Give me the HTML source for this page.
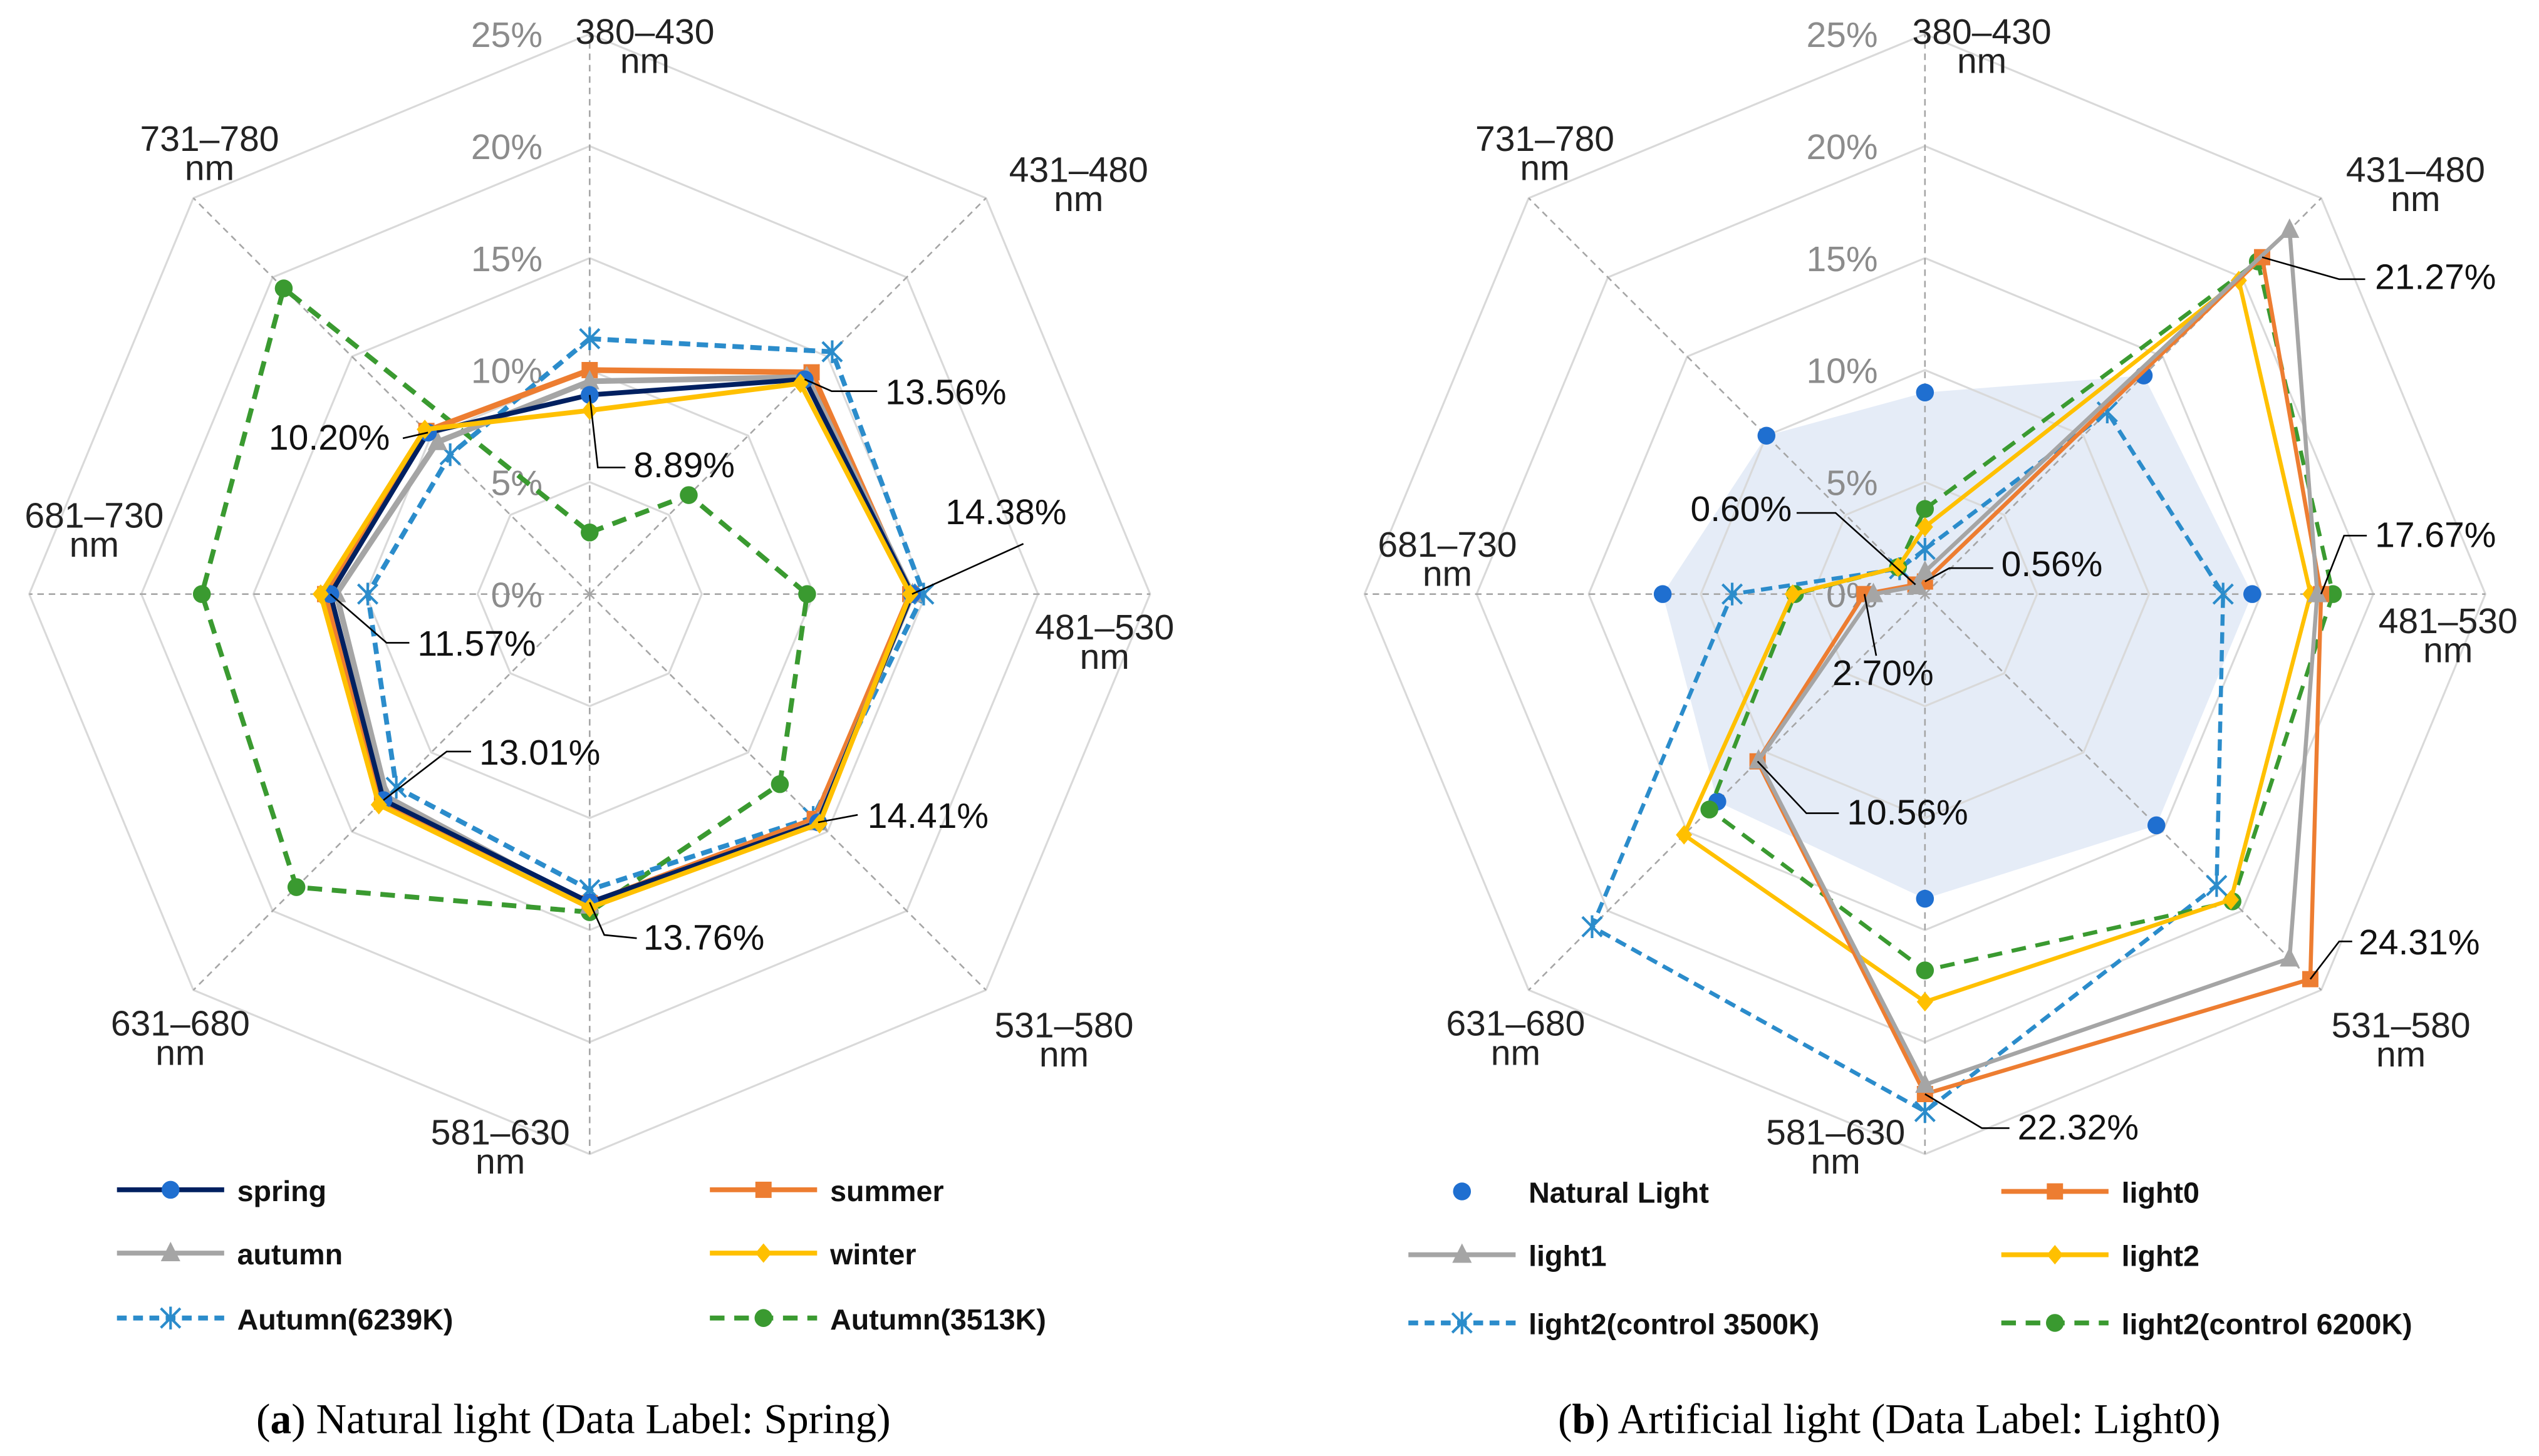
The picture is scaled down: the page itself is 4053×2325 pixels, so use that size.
<!DOCTYPE html>
<html><head><meta charset="utf-8">
<style>
html,body{margin:0;padding:0;background:#fff;}
svg{display:block;}
text{font-family:"Liberation Sans","DejaVu Sans",sans-serif;}
</style></head>
<body>
<svg id="chart" xmlns="http://www.w3.org/2000/svg" width="4053" height="2325" viewBox="0 0 1563 897" preserveAspectRatio="none">
<g id="panelA"></g>
<g id="panelB"></g>
<text x="353" y="883" text-anchor="middle" font-size="26" style="font-family:'Liberation Serif',serif">(<tspan font-weight="bold">a</tspan>) Natural light (Data Label: Spring)</text>
<text x="1163" y="883" text-anchor="middle" font-size="26" style="font-family:'Liberation Serif',serif">(<tspan font-weight="bold">b</tspan>) Artificial light (Data Label: Light0)</text>
</svg>
<script>
const categories = ["380–430","431–480","481–530","531–580","581–630","631–680","681–730","731–780"];
const ticks = [0,5,10,15,20,25];
const tickLabels = ["0%","5%","10%","15%","20%","25%"];
// Panel A series
const spring = [8.89,13.56,14.38,14.41,13.76,13.01,11.57,10.20];
const summer = [10.0,14.0,14.3,14.2,13.8,13.1,11.8,10.3];
const autumn = [9.5,13.7,14.4,14.4,13.9,12.8,11.3,9.6];
const winter = [8.2,13.3,14.3,14.5,14.0,13.3,12.0,10.4];
const autumn6239 = [11.4,15.3,14.9,14.1,13.2,12.2,9.9,8.8];
const autumn3513 = [2.75,6.25,9.7,12.0,14.2,18.5,17.3,19.3];
// Panel B series
const naturalLight = [9.0,13.8,14.6,14.6,13.6,13.1,11.7,10.0];
const light0 = [0.56,21.27,17.67,24.31,22.32,10.56,2.70,0.60];
const light1 = [1.0,23.0,17.5,23.0,21.9,10.5,2.3,0.5];
const light2 = [3.0,19.8,17.2,19.3,18.2,15.2,5.9,1.7];
const control3500 = [2.0,11.5,13.3,18.4,23.1,21.0,8.6,1.6];
const control6200 = [3.8,21.0,18.2,19.4,16.8,13.6,5.8,1.7];

const NS="http://www.w3.org/2000/svg";
const PX=13.8;
function mk(tag,attrs,parent){const e=document.createElementNS(NS,tag);for(const k in attrs)e.setAttribute(k,attrs[k]);parent.appendChild(e);return e;}
function pt(cx,cy,i,v){const a=-Math.PI/2+i*Math.PI/4;return [cx+Math.cos(a)*v*PX, cy+Math.sin(a)*v*PX];}

function marker(g,type,x,y,color,name){
  let e;
  if(type==="circle"){e=mk("circle",{cx:x,cy:y,r:5.5,fill:color},g);}
  else if(type==="square"){e=mk("rect",{x:x-5,y:y-5,width:10,height:10,fill:color},g);}
  else if(type==="triangle"){e=mk("polygon",{points:`${x},${y-7} ${x+6},${y+5} ${x-6},${y+5}`,fill:color},g);}
  else if(type==="diamond"){e=mk("polygon",{points:`${x},${y-6} ${x+5},${y} ${x},${y+6} ${x-5},${y}`,fill:color},g);}
  else if(type==="star"){e=mk("path",{d:`M${x-6} ${y-6}L${x+6} ${y+6}M${x+6} ${y-6}L${x-6} ${y+6}M${x} ${y-7}L${x} ${y+7}`,stroke:color,"stroke-width":1.6,fill:"none"},g);}
  else return;
  
  
}

function grid(g,cx,cy,labelPos){
  for(let t=1;t<ticks.length;t++){
    const pts=categories.map((c,i)=>pt(cx,cy,i,ticks[t]).join(",")).join(" ");
    const r=mk("polygon",{points:pts,fill:"none",stroke:"#d9d9d9","stroke-width":1.2},g);
    
    
  }
  categories.forEach((c,i)=>{
    const [x,y]=pt(cx,cy,i,25);
    const s=mk("line",{x1:cx,y1:cy,x2:x,y2:y,stroke:"#a6a6a6","stroke-width":1,"stroke-dasharray":"4,3"},g);
    
    
    const [lx,ly]=labelPos[i];
    const t1=mk("text",{x:lx,y:ly,"text-anchor":"middle","font-size":22,fill:"#222"},g);
    t1.textContent=c;
    
    
    const t2=mk("text",{x:lx,y:ly+18,"text-anchor":"middle","font-size":22,fill:"#222"},g);
    t2.textContent="nm";
    
    
  });
  ticks.forEach((t,i)=>{
    const tl=mk("text",{x:cx-29,y:cy-t*PX+8,"text-anchor":"end","font-size":22,fill:"#8c8c8c"},g);
    tl.textContent=tickLabels[i];
    
    
  });
}

function series(g,cx,cy,vals,color,type,dash,width,name,line=true,mcolor){
  const sg=mk("g",{},g);
  
  
  if(line){
    const pts=vals.map((v,i)=>pt(cx,cy,i,v).join(",")).join(" ");
    const attrs={points:pts,fill:"none",stroke:color,"stroke-width":width,"stroke-linejoin":"miter"};
    if(dash)attrs["stroke-dasharray"]=dash;
    const p=mk("polygon",attrs,sg);
    
    
  }
  vals.forEach((v,i)=>{const [x,y]=pt(cx,cy,i,v);marker(sg,type,x,y,mcolor||color,name+'-point');});
}

function dataLabel(g,cx,cy,vals,i,text,tx,ty,path,anchor){
  const [x,y]=pt(cx,cy,i,vals[i]);
  const l=mk("polyline",{points:`${x},${y} ${path}`,fill:"none",stroke:"#000","stroke-width":1},g);
  
  
  const t=mk("text",{x:tx,y:ty,"font-size":22,fill:"#111","text-anchor":anchor||"start"},g);
  t.textContent=text;
  
  
}

function legendEntry(g,x,y,color,type,dash,label,name,line=true,mcolor){
  const lg=mk("g",{},g);
  
  
  if(line){
    const a={x1:x,y1:y,x2:x+66,y2:y,stroke:color,"stroke-width":3};
    if(dash)a["stroke-dasharray"]=dash;
    mk("line",a,lg);
  }
  marker(lg,type,x+33,y,mcolor||color,name+'-marker');
  const t=mk("text",{x:x+74,y:y+7,"font-size":18,"font-weight":"bold",fill:"#111"},lg);
  t.textContent=label;
}

const C={navy:"#002060",orange:"#ed7d31",grey:"#a5a5a5",yellow:"#ffc000",blue:"#2b8ccb",green:"#3a9a30",dot:"#1f6fd0"};

// Panel A
(function(){
  const g=document.getElementById("panelA");const cx=363,cy=366;
  grid(g,cx,cy,[[397,27],[664,112],[680,394],[655,639],[308,705],[111,638],[58,325],[129,93]]);
  series(g,cx,cy,autumn3513,C.green,"circle","9,6",3,"series-autumn-3513k");
  series(g,cx,cy,autumn6239,C.blue,"star","7,4",3,"series-autumn-6239k");
  series(g,cx,cy,summer,C.orange,"square",null,3.5,"series-summer");
  series(g,cx,cy,autumn,C.grey,"triangle",null,3.5,"series-autumn");
  series(g,cx,cy,spring,C.navy,"circle",null,3,"series-spring",true,C.dot);
  series(g,cx,cy,winter,C.yellow,"diamond",null,3,"series-winter");
  dataLabel(g,cx,cy,spring,0,"8.89%",390,294,"368,288 385,288");
  dataLabel(g,cx,cy,spring,1,"13.56%",545,249,"512,241 540,241");
  dataLabel(g,cx,cy,spring,2,"14.38%",582,323,"630,335");
  dataLabel(g,cx,cy,spring,3,"14.41%",534,510,"528,502");
  dataLabel(g,cx,cy,spring,4,"13.76%",396,585,"372,576 392,578");
  dataLabel(g,cx,cy,spring,5,"13.01%",295,471,"275,463 290,463");
  dataLabel(g,cx,cy,spring,6,"11.57%",257,404,"238,396 252,396");
  dataLabel(g,cx,cy,spring,7,"10.20%",240,277,"248,270","end");
  legendEntry(g,72,733,C.navy,"circle",null,"spring","legend-spring",true,C.dot);
  legendEntry(g,437,733,C.orange,"square",null,"summer","legend-summer");
  legendEntry(g,72,772,C.grey,"triangle",null,"autumn","legend-autumn");
  legendEntry(g,437,772,C.yellow,"diamond",null,"winter","legend-winter");
  legendEntry(g,72,812,C.blue,"star","6,4","Autumn(6239K)","legend-autumn-6239k");
  legendEntry(g,437,812,C.green,"circle","9,6","Autumn(3513K)","legend-autumn-3513k");
})();

// Panel B
(function(){
  const g=document.getElementById("panelB");const cx=1185,cy=366;
  const area=mk("polygon",{points:naturalLight.map((v,i)=>pt(cx,cy,i,v).join(",")).join(" "),fill:"#dce5f4","fill-opacity":0.75,stroke:"none"},g);
  
  
  grid(g,cx,cy,[[1220,27],[1487,112],[1507,390],[1478,639],[1130,705],[933,638],[891,343],[951,93]]);
  series(g,cx,cy,naturalLight,C.dot,"circle",null,0,"series-natural-light",false);
  series(g,cx,cy,control3500,C.blue,"star","7,4",2.5,"series-light2-control-3500k");
  series(g,cx,cy,control6200,C.green,"circle","9,6",2.5,"series-light2-control-6200k");
  series(g,cx,cy,light2,C.yellow,"diamond",null,2.5,"series-light2");
  series(g,cx,cy,light0,C.orange,"square",null,2.5,"series-light0");
  series(g,cx,cy,light1,C.grey,"triangle",null,2.5,"series-light1");
  dataLabel(g,cx,cy,light0,0,"0.56%",1232,355,"1200,350 1227,350");
  dataLabel(g,cx,cy,light0,1,"21.27%",1462,178,"1440,172 1456,172");
  dataLabel(g,cx,cy,light0,2,"17.67%",1462,337,"1443,330 1457,330");
  dataLabel(g,cx,cy,light0,3,"24.31%",1452,588,"1440,580 1448,580");
  dataLabel(g,cx,cy,light0,4,"22.32%",1242,702,"1220,695 1237,695");
  dataLabel(g,cx,cy,light0,5,"10.56%",1137,508,"1112,501 1132,501");
  dataLabel(g,cx,cy,light0,6,"2.70%",1128,422,"1155,404");
  dataLabel(g,cx,cy,light0,7,"0.60%",1103,321,"1130,316 1106,316","end");
  legendEntry(g,867,734,C.dot,"circle",null,"Natural Light","legend-natural-light",false);
  legendEntry(g,1232,734,C.orange,"square",null,"light0","legend-light0");
  legendEntry(g,867,773,C.grey,"triangle",null,"light1","legend-light1");
  legendEntry(g,1232,773,C.yellow,"diamond",null,"light2","legend-light2");
  legendEntry(g,867,815,C.blue,"star","6,4","light2(control 3500K)","legend-light2-control-3500k");
  legendEntry(g,1232,815,C.green,"circle","9,6","light2(control 6200K)","legend-light2-control-6200k");
})();
</script>
</body></html>
